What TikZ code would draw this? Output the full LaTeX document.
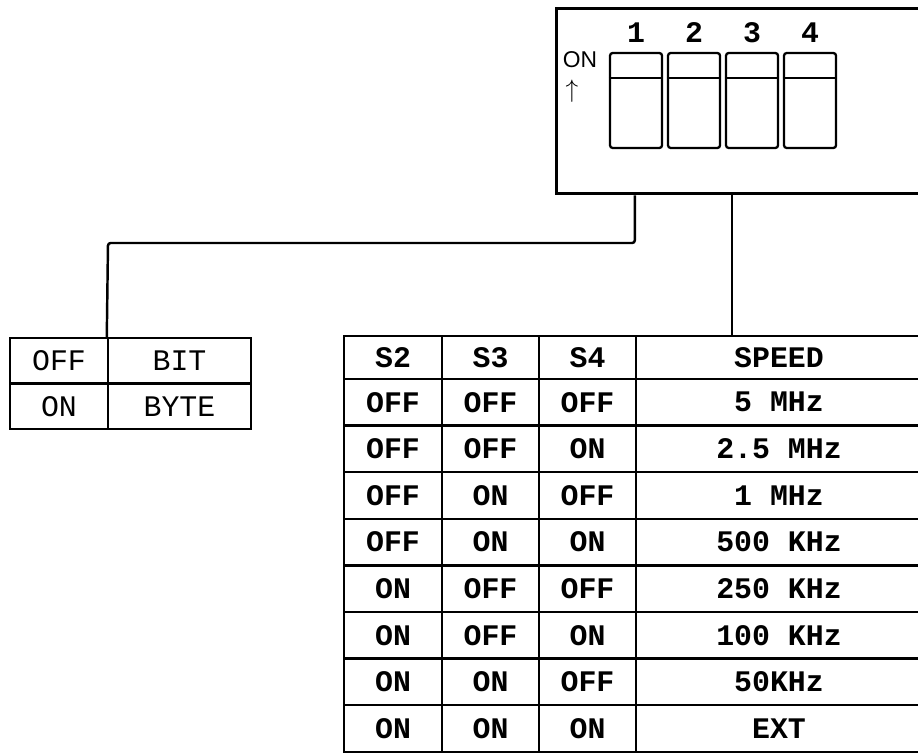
\documentclass[tikz,border=0pt]{standalone}
\usepackage{fontspec}
\usepackage{amsmath}
\newfontfamily\typew{Liberation Mono}
\newfontfamily\plainsf{Liberation Sans}

\begin{document}
\begin{tikzpicture}[x=0.02cm, y=-0.02cm,
  frame/.style={draw, line width=1.7pt, inner sep=0pt},
  swbox/.style={draw, line width=1.3pt, rounded corners=1.5pt, minimum width=1.04cm, minimum height=1.9cm, inner sep=0pt},
  cell/.style={draw, line width=1.4pt, inner sep=0pt, minimum height=0.932cm},
  thin/.style={cell, minimum height=0.91cm, font=\typew\fontsize{17}{17}\selectfont},
  bold/.style={cell, font=\typew\bfseries\fontsize{17}{17}\selectfont},
  head/.style={bold, minimum height=0.86cm},
  nar/.style={minimum width=1.95cm},
  wide/.style={minimum width=5.72cm},
  link/.style={line width=1.4pt}]
\useasboundingbox (0,0) rectangle (918,753);

% dip switch
\node[frame, minimum width=7.38cm, minimum height=3.72cm] (dip) at (740.5,101) {};
\node[font=\plainsf\fontsize{13}{13}\selectfont] (onlbl) at (580,60) {ON};
\node[font=\fontsize{14}{14}\selectfont] (onarr) at (572,91) {$\uparrow$};
\node[swbox] (sw1) at (636,100.5) {};
\node[swbox] (sw2) at (694,100.5) {};
\node[swbox] (sw3) at (752,100.5) {};
\node[swbox] (sw4) at (810,100.5) {};
\draw[line width=1.3pt] ([yshift=-0.52cm]sw1.north west) -- ([yshift=-0.52cm]sw1.north east);
\draw[line width=1.3pt] ([yshift=-0.52cm]sw2.north west) -- ([yshift=-0.52cm]sw2.north east);
\draw[line width=1.3pt] ([yshift=-0.52cm]sw3.north west) -- ([yshift=-0.52cm]sw3.north east);
\draw[line width=1.3pt] ([yshift=-0.52cm]sw4.north west) -- ([yshift=-0.52cm]sw4.north east);
\node[font=\typew\bfseries\fontsize{17}{17}\selectfont] (n1) at (636,33) {1};
\node[font=\typew\bfseries\fontsize{17}{17}\selectfont] (n2) at (694,33) {2};
\node[font=\typew\bfseries\fontsize{17}{17}\selectfont] (n3) at (752,33) {3};
\node[font=\typew\bfseries\fontsize{17}{17}\selectfont] (n4) at (810,33) {4};

% bit / byte
\node[thin, minimum width=1.96cm] (off) at (59,360.75) {OFF};
\node[thin, minimum width=2.86cm] (bit) at (179.5,360.75) {BIT};
\node[thin, minimum width=1.96cm] (on) at (59,406.25) {ON};
\node[thin, minimum width=2.86cm] (byte) at (179.5,406.25) {BYTE};

% speed table
\node[head, nar] (h2) at (393,357.5) {S2}; \node[head, nar] (h3) at (490.5,357.5) {S3}; \node[head, nar] (h4) at (587.5,357.5) {S4}; \node[head, wide] (hsp) at (779,357.5) {SPEED};
\node[bold, nar] (a2) at (393,402.3) {OFF}; \node[bold, nar] (a3) at (490.5,402.3) {OFF}; \node[bold, nar] (a4) at (587.5,402.3) {OFF}; \node[bold, wide] (asp) at (779,402.3) {5 MHz};
\node[bold, nar] (b2) at (393,448.9) {OFF}; \node[bold, nar] (b3) at (490.5,448.9) {OFF}; \node[bold, nar] (b4) at (587.5,448.9) {ON}; \node[bold, wide] (bsp) at (779,448.9) {2.5 MHz};
\node[bold, nar] (c2) at (393,495.5) {OFF}; \node[bold, nar] (c3) at (490.5,495.5) {ON}; \node[bold, nar] (c4) at (587.5,495.5) {OFF}; \node[bold, wide] (csp) at (779,495.5) {1 MHz};
\node[bold, nar] (d2) at (393,542.1) {OFF}; \node[bold, nar] (d3) at (490.5,542.1) {ON}; \node[bold, nar] (d4) at (587.5,542.1) {ON}; \node[bold, wide] (dsp) at (779,542.1) {500 KHz};
\node[bold, nar] (e2) at (393,588.7) {ON}; \node[bold, nar] (e3) at (490.5,588.7) {OFF}; \node[bold, nar] (e4) at (587.5,588.7) {OFF}; \node[bold, wide] (esp) at (779,588.7) {250 KHz};
\node[bold, nar] (f2) at (393,635.3) {ON}; \node[bold, nar] (f3) at (490.5,635.3) {OFF}; \node[bold, nar] (f4) at (587.5,635.3) {ON}; \node[bold, wide] (fsp) at (779,635.3) {100 KHz};
\node[bold, nar] (g2) at (393,681.9) {ON}; \node[bold, nar] (g3) at (490.5,681.9) {ON}; \node[bold, nar] (g4) at (587.5,681.9) {OFF}; \node[bold, wide] (gsp) at (779,681.9) {50KHz};
\node[bold, nar] (k2) at (393,728.5) {ON}; \node[bold, nar] (k3) at (490.5,728.5) {ON}; \node[bold, nar] (k4) at (587.5,728.5) {ON}; \node[bold, wide] (ksp) at (779,728.5) {EXT};

% connectors
\coordinate (bend) at (108,243);
\draw[link, rounded corners=1.5pt] (dip.south -| hsp.west) |- (bend) -- (bit.north west);
\draw[link] ([xshift=-0.94cm]hsp.north |- dip.south) -- ([xshift=-0.94cm]hsp.north);
\end{tikzpicture}
\end{document}
